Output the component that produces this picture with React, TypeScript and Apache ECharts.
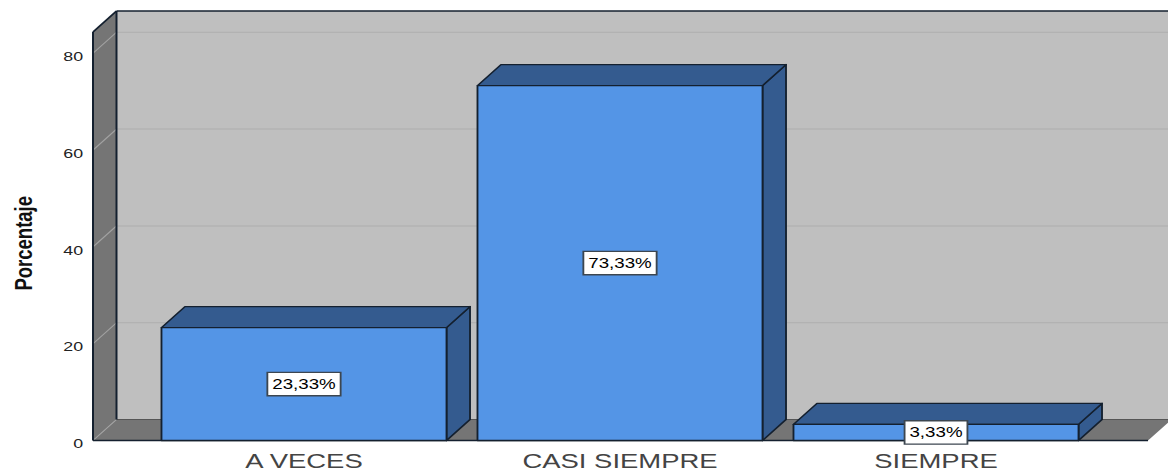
import React, { useEffect, useRef } from "react";
import * as echarts from "echarts";

const categories = ["A VECES", "CASI SIEMPRE", "SIEMPRE"];
const percentages = [23.33, 73.33, 3.33];
const yTicks = [0, 20, 40, 60, 80];
const yMax = 84.4;
const axisTitle = "Porcentaje";

// The reference is a picture stretched sideways: the whole chart is drawn narrower and scaled by CSS.
const CHART_W = 885;
const CHART_H = 472;
const K = 1168 / CHART_W;
const DX = 23.5 / K;
const DY = 21;
const EDGE = "#14202f";

function renderWalls(params: any, api: any) {
  const cs = params.coordSys;
  const L = cs.x - 53 / K;
  const R = cs.x + cs.width + 54 / K;
  const y0 = api.coord([0, 0])[1];
  const yt = api.coord([0, yMax])[1];
  const children: any[] = [
    { type: "rect", shape: { x: L + DX, y: yt - DY, width: R + 40 - L, height: y0 - yt }, style: { fill: "#bfbfbf" } },
    {
      type: "polygon",
      shape: { points: [[L, y0], [L + DX, y0 - DY], [L + DX, yt - DY], [L, yt]] },
      style: { fill: "#757575" },
    },
    {
      type: "polygon",
      shape: { points: [[L, y0], [R, y0], [R + DX, y0 - DY], [L + DX, y0 - DY]] },
      style: { fill: "#757575" },
    },
  ];
  yTicks.forEach((t) => {
    const y = api.coord([0, t])[1];
    if (t > 0) {
      children.push({
        type: "line",
        shape: { x1: L + DX, y1: y - DY, x2: R + 40, y2: y - DY },
        style: { stroke: "#aeaeae", lineWidth: 1 },
      });
    }
    children.push({
      type: "line",
      shape: { x1: L, y1: y, x2: L + DX, y2: y - DY },
      style: { stroke: "#a2a2a2", lineWidth: 1 },
    });
  });
  const dark = { stroke: EDGE, lineWidth: 1.5 };
  children.push(
    { type: "line", shape: { x1: L + DX, y1: y0 - DY, x2: R + DX, y2: y0 - DY }, style: { stroke: "#555", lineWidth: 1 } },
    { type: "line", shape: { x1: L + DX, y1: yt - DY, x2: R + 40, y2: yt - DY }, style: dark },
    { type: "line", shape: { x1: L + DX, y1: yt - DY, x2: L + DX, y2: y0 - DY }, style: dark },
    { type: "line", shape: { x1: L, y1: yt, x2: L + DX, y2: yt - DY }, style: dark },
    { type: "line", shape: { x1: L, y1: yt, x2: L, y2: y0 }, style: dark },
    { type: "line", shape: { x1: L, y1: y0, x2: R, y2: y0 }, style: dark }
  );
  return { type: "group", children };
}

function renderBar(params: any, api: any) {
  const i = api.value(0);
  const v = api.value(1);
  const [cx, yv] = api.coord([i, v]);
  const y0 = api.coord([i, 0])[1];
  const w = api.size([1, 0])[0] * 0.902;
  const x0 = cx - w / 2;
  const x1 = cx + w / 2;
  const stroke = { stroke: EDGE, lineWidth: 1.4, lineJoin: "round" };
  return {
    type: "group",
    children: [
      {
        type: "polygon",
        shape: { points: [[x1, yv], [x1 + DX, yv - DY], [x1 + DX, y0 - DY], [x1, y0]] },
        style: { fill: "#345b8f", ...stroke },
      },
      {
        type: "polygon",
        shape: { points: [[x0, yv], [x1, yv], [x1 + DX, yv - DY], [x0 + DX, yv - DY]] },
        style: { fill: "#345b8f", ...stroke },
      },
      {
        type: "rect",
        shape: { x: x0, y: yv, width: w, height: y0 - yv },
        style: { fill: "#5495e6", ...stroke },
      },
      {
        type: "text",
        x: cx,
        y: (yv + y0) / 2,
        style: {
          text: v.toFixed(2).replace(".", ",") + "%",
          fontFamily: "Liberation Sans",
          fontSize: 14.2,
          fill: "#000000",
          align: "center",
          verticalAlign: "middle",
          backgroundColor: "#ffffff",
          borderColor: "#3c4650",
          borderWidth: 1.4,
          padding: [4, 3, 4, 3],
        },
      },
    ],
  };
}

export default function App() {
  const ref = useRef<HTMLDivElement>(null);
  useEffect(() => {
    const chart = echarts.init(ref.current!, undefined, { renderer: "svg" });
    chart.setOption({
      animation: false,
      backgroundColor: "#ffffff",
      grid: { left: 146 / K, width: 948 / K, top: 32, bottom: 31.5, containLabel: false, outerBoundsMode: "none" },
      xAxis: {
        type: "category",
        data: categories,
        axisLine: { show: false },
        axisTick: { show: false },
        axisLabel: { fontFamily: "Liberation Sans", fontSize: 20.8, color: "#444444", margin: 10, interval: 0 },
      },
      yAxis: {
        type: "value",
        min: 0,
        max: yMax,
        interval: 20,
        offset: 53 / K,
        name: axisTitle,
        nameLocation: "middle",
        nameGap: 43,
        nameTextStyle: {
          fontFamily: "Liberation Sans",
          fontWeight: "bold",
          fontSize: 18.5,
          color: "#111111",
          padding: [0, 14, 0, 0],
        },
        axisLine: { show: false },
        axisTick: { show: false },
        splitLine: { show: false },
        axisLabel: {
          margin: 7.5,
          formatter: (v: number) => (yTicks.includes(v) ? `{t|${v}}` : ""),
          rich: {
            t: {
              fontFamily: "Liberation Sans",
              fontSize: 13.5,
              color: "#222222",
              padding: [6, 0, 0, 0],
            },
          },
        },
      },
      series: [
        { type: "custom", z: 1, renderItem: renderWalls, data: [[0, 0]], encode: { x: 0, y: 1 }, silent: true },
        {
          type: "custom",
          z: 2,
          renderItem: renderBar,
          data: percentages.map((v, i) => [i, v]),
          encode: { x: 0, y: 1 },
          silent: true,
        },
      ],
    });
    return () => chart.dispose();
  }, []);
  return (
    <div
      ref={ref}
      style={{
        position: "fixed",
        left: 0,
        top: 0,
        width: CHART_W,
        height: CHART_H,
        transform: `scaleX(${K})`,
        transformOrigin: "0 0",
      }}
    />
  );
}
